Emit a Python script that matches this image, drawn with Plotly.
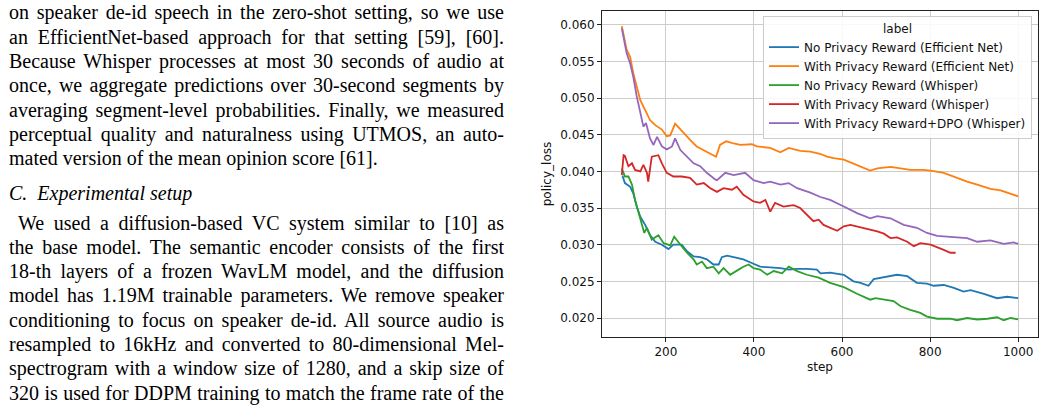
import json
import plotly.graph_objects as go

# ---------------- data ----------------
blue_steps = [100, 102, 107, 119, 126, 134, 142, 153, 164, 176, 191, 206, 217, 236, 248, 263, 278, 293, 308, 320,
              327, 339, 354, 376, 395, 414, 437, 460, 479, 498, 520, 543, 551, 573, 604, 626, 642, 660, 672, 695,
              725, 748, 770, 793, 808, 831, 854, 876, 892, 922, 952, 975, 1000]
blue_vals = [.0393, .0393, .0384, .0379, .0370, .0352, .0338, .0327, .0313, .0304, .0300, .0294, .0300, .0300, .0291,
             .0284, .0283, .0280, .0273, .0273, .0283, .0285, .0283, .0280, .0275, .0270, .0269, .0268, .0266, .0267,
             .0267, .0266, .0261, .0262, .0259, .0250, .0248, .0244, .0253, .0256, .0259, .0257, .0248, .0247, .0244,
             .0245, .0241, .0236, .0238, .0233, .0227, .0229, .0227]

orange_steps = [100, 111, 119, 126, 142, 153, 164, 176, 191, 202, 210, 221, 233, 244, 255, 270, 286, 301, 314, 323,
                337, 354, 369, 395, 407, 437, 460, 479, 505, 528, 550, 566, 581, 604, 634, 664, 680, 710, 733, 755,
                785, 801, 831, 861, 884, 907, 937, 960, 983, 1000]
orange_vals = [.0598, .0566, .0556, .0534, .0497, .0484, .0470, .0463, .0457, .0448, .0449, .0465, .0457, .0451, .0443,
               .0434, .0429, .0425, .0420, .0436, .0441, .0438, .0436, .0437, .0434, .0432, .0426, .0432, .0428, .0427,
               .0424, .0420, .0418, .0416, .0409, .0401, .0404, .0406, .0404, .0402, .0402, .0401, .0398, .0391, .0386,
               .0382, .0376, .0374, .0370, .0366]

green_steps = [100, 107, 115, 123, 130, 138, 145, 151, 157, 168, 183, 195, 210, 219, 233, 248, 263, 270, 282, 293,
               308, 320, 331, 346, 365, 376, 388, 399, 414, 430, 445, 464, 479, 498, 520, 547, 573, 604, 634, 649,
               664, 676, 695, 717, 733, 755, 778, 793, 816, 846, 861, 884, 907, 930, 952, 967, 983, 1000]
green_vals = [.0404, .0393, .0393, .0382, .0361, .0343, .0329, .0316, .0323, .0307, .0313, .0302, .0299, .0311, .0300,
              .0289, .0280, .0273, .0277, .0268, .0270, .0261, .0268, .0259, .0266, .0270, .0273, .0268, .0266, .0259,
              .0264, .0261, .0270, .0264, .0259, .0255, .0248, .0242, .0233, .0229, .0225, .0227, .0225, .0223, .0216,
              .0211, .0207, .0202, .0199, .0199, .0197, .0200, .0198, .0199, .0201, .0197, .0200, .0198]

red_steps = [100, 104, 107, 115, 123, 130, 142, 149, 157, 160, 168, 183, 191, 202, 217, 236, 255, 270, 286, 301,
             316, 331, 350, 361, 376, 399, 414, 426, 437, 448, 467, 490, 505, 524, 535, 547, 558, 589, 604, 619,
             649, 680, 695, 710, 725, 748, 763, 778, 801, 816, 831, 846, 858]
red_vals = [.0395, .0422, .0421, .0407, .0411, .0402, .0400, .0409, .0398, .0386, .0420, .0422, .0411, .0398, .0393,
            .0393, .0391, .0382, .0384, .0377, .0372, .0377, .0375, .0379, .0368, .0359, .0357, .0361, .0345, .0357,
            .0352, .0354, .0350, .0338, .0332, .0334, .0327, .0319, .0325, .0327, .0323, .0318, .0315, .0309, .0310,
            .0304, .0298, .0302, .0300, .0297, .0293, .0289, .0289]

purple_steps = [100, 107, 111, 119, 126, 134, 142, 149, 155, 164, 172, 180, 191, 202, 214, 221, 233, 248, 263, 278,
                293, 312, 316, 335, 354, 380, 399, 422, 437, 460, 479, 498, 528, 551, 573, 604, 634, 664, 680, 710,
                740, 770, 793, 816, 846, 884, 907, 937, 967, 990, 1000]
purple_vals = [.0595, .0570, .0561, .0547, .0529, .0502, .0479, .0461, .0466, .0445, .0436, .0447, .0434, .0430, .0434,
               .0445, .0429, .0420, .0411, .0407, .0398, .0389, .0388, .0398, .0395, .0398, .0388, .0384, .0386, .0382,
               .0384, .0377, .0371, .0365, .0361, .0352, .0343, .0336, .0339, .0336, .0327, .0323, .0316, .0312, .0311,
               .0309, .0304, .0306, .0301, .0303, .0301]

series_names = ["No Privacy Reward (Efficient Net)", "With Privacy Reward (Efficient Net)",
                "No Privacy Reward (Whisper)", "With Privacy Reward (Whisper)",
                "With Privacy Reward+DPO (Whisper)"]
series_colors = ["#1f77b4", "#ff7f0e", "#2ca02c", "#d62728", "#9467bd"]
series_x = [blue_steps, orange_steps, green_steps, red_steps, purple_steps]
series_y = [blue_vals, orange_vals, green_vals, red_vals, purple_vals]

x_ticks = [200, 400, 600, 800, 1000]
y_ticks = [0.020, 0.025, 0.030, 0.035, 0.040, 0.045, 0.050, 0.055, 0.060]

# body text of the paper page (line by line, as printed)
para1 = [
    "on speaker de-id speech in the zero-shot setting, so we use",
    "an EfficientNet-based approach for that setting [59], [60].",
    "Because Whisper processes at most 30 seconds of audio at",
    "once, we aggregate predictions over 30-second segments by",
    "averaging segment-level probabilities. Finally, we measured",
    "perceptual quality and naturalness using UTMOS, an auto-",
    "mated version of the mean opinion score [61].",
]
heading = "C.\u2002Experimental setup"
para2 = [
    "We used a diffusion-based VC system similar to [10] as",
    "the base model. The semantic encoder consists of the first",
    "18-th layers of a frozen WavLM model, and the diffusion",
    "model has 1.19M trainable parameters. We remove speaker",
    "conditioning to focus on speaker de-id. All source audio is",
    "resampled to 16kHz and converted to 80-dimensional Mel-",
    "spectrogram with a window size of 1280, and a skip size of",
    "320 is used for DDPM training to match the frame rate of the",
]

# ---------------- layout geometry ----------------
W, H = 1045, 407
PL, PR, PT, PB = 602, 1038, 11, 337
FONT = "DejaVu Sans"
SERIF = "Liberation Serif"

fig = go.Figure()
for xs, ys, nm, col in zip(series_x, series_y, series_names, series_colors):
    fig.add_trace(go.Scatter(x=xs, y=ys, mode="lines", name=nm,
                             line=dict(color=col, width=1.8)))

axis_common = dict(
    showline=True, mirror=True, linecolor="#222222", linewidth=1,
    ticks="outside", ticklen=4, tickwidth=1, tickcolor="#222222",
    showgrid=True, gridcolor="#cccccc", gridwidth=1, zeroline=False,
    tickfont=dict(family=FONT, size=12, color="#111111"),
)

fig.update_layout(
    width=W, height=H,
    margin=dict(l=0, r=0, t=0, b=0),
    paper_bgcolor="white", plot_bgcolor="white",
    xaxis=dict(domain=[PL / W, PR / W], range=[55, 1045], tickvals=x_ticks,
               title=dict(text="step", font=dict(family=FONT, size=12, color="#111111"), standoff=4),
               **axis_common),
    yaxis=dict(domain=[1 - PB / H, 1 - PT / H], range=[0.01741, 0.06187], tickvals=y_ticks,
               tickformat=".3f",
               title=dict(text="policy_loss", font=dict(family=FONT, size=12, color="#111111"), standoff=6),
               **axis_common),
    legend=dict(x=763 / W, y=1 - 16 / H, xanchor="left", yanchor="top",
                bgcolor="rgba(255,255,255,0.85)", bordercolor="#cccccc", borderwidth=1,
                font=dict(family=FONT, size=12, color="#111111"),
                title=dict(text="label", side="top center", font=dict(family=FONT, size=12, color="#111111"))),
    showlegend=True,
)

annotations = []
justify = []
LEFT, RIGHT = 7, 502
BASE_OFF = 6  # baseline minus box middle (approx)
LEAD = 24.3


def add_line(text, baseline, left, do_justify, italic=False):
    t = "<i>%s</i>" % text if italic else text
    annotations.append(dict(
        text=t, xref="paper", yref="paper", x=left / W, y=1 - (baseline - BASE_OFF) / H,
        xanchor="left", yanchor="middle", align="left", showarrow=False,
        font=dict(family=SERIF, size=20, color="black")))
    if do_justify:
        justify.append([len(annotations) - 1, RIGHT - left])


base1 = 19
for i, line in enumerate(para1):
    add_line(line, base1 + LEAD * i, LEFT, i < len(para1) - 1)
add_line(heading, 199, LEFT, False, italic=True)
base2 = 229
for i, line in enumerate(para2):
    add_line(line, base2 + LEAD * i, 16 if i == 0 else LEFT, True)

fig.update_layout(annotations=annotations)

post = """
var gd = document.getElementById('{plot_id}');
var spec = SPEC;
spec.forEach(function(p){
  var t = gd.querySelector('g.annotation[data-index="' + p[0] + '"] text.annotation-text');
  if (!t) return;
  var txt = t.textContent;
  var n = (txt.match(/ /g) || []).length;
  if (!n) return;
  var len = t.getComputedTextLength();
  t.style.wordSpacing = ((p[1] - len) / n) + 'px';
});
""".replace("SPEC", json.dumps(justify))

fig.write_html("out.html", post_script=post)
